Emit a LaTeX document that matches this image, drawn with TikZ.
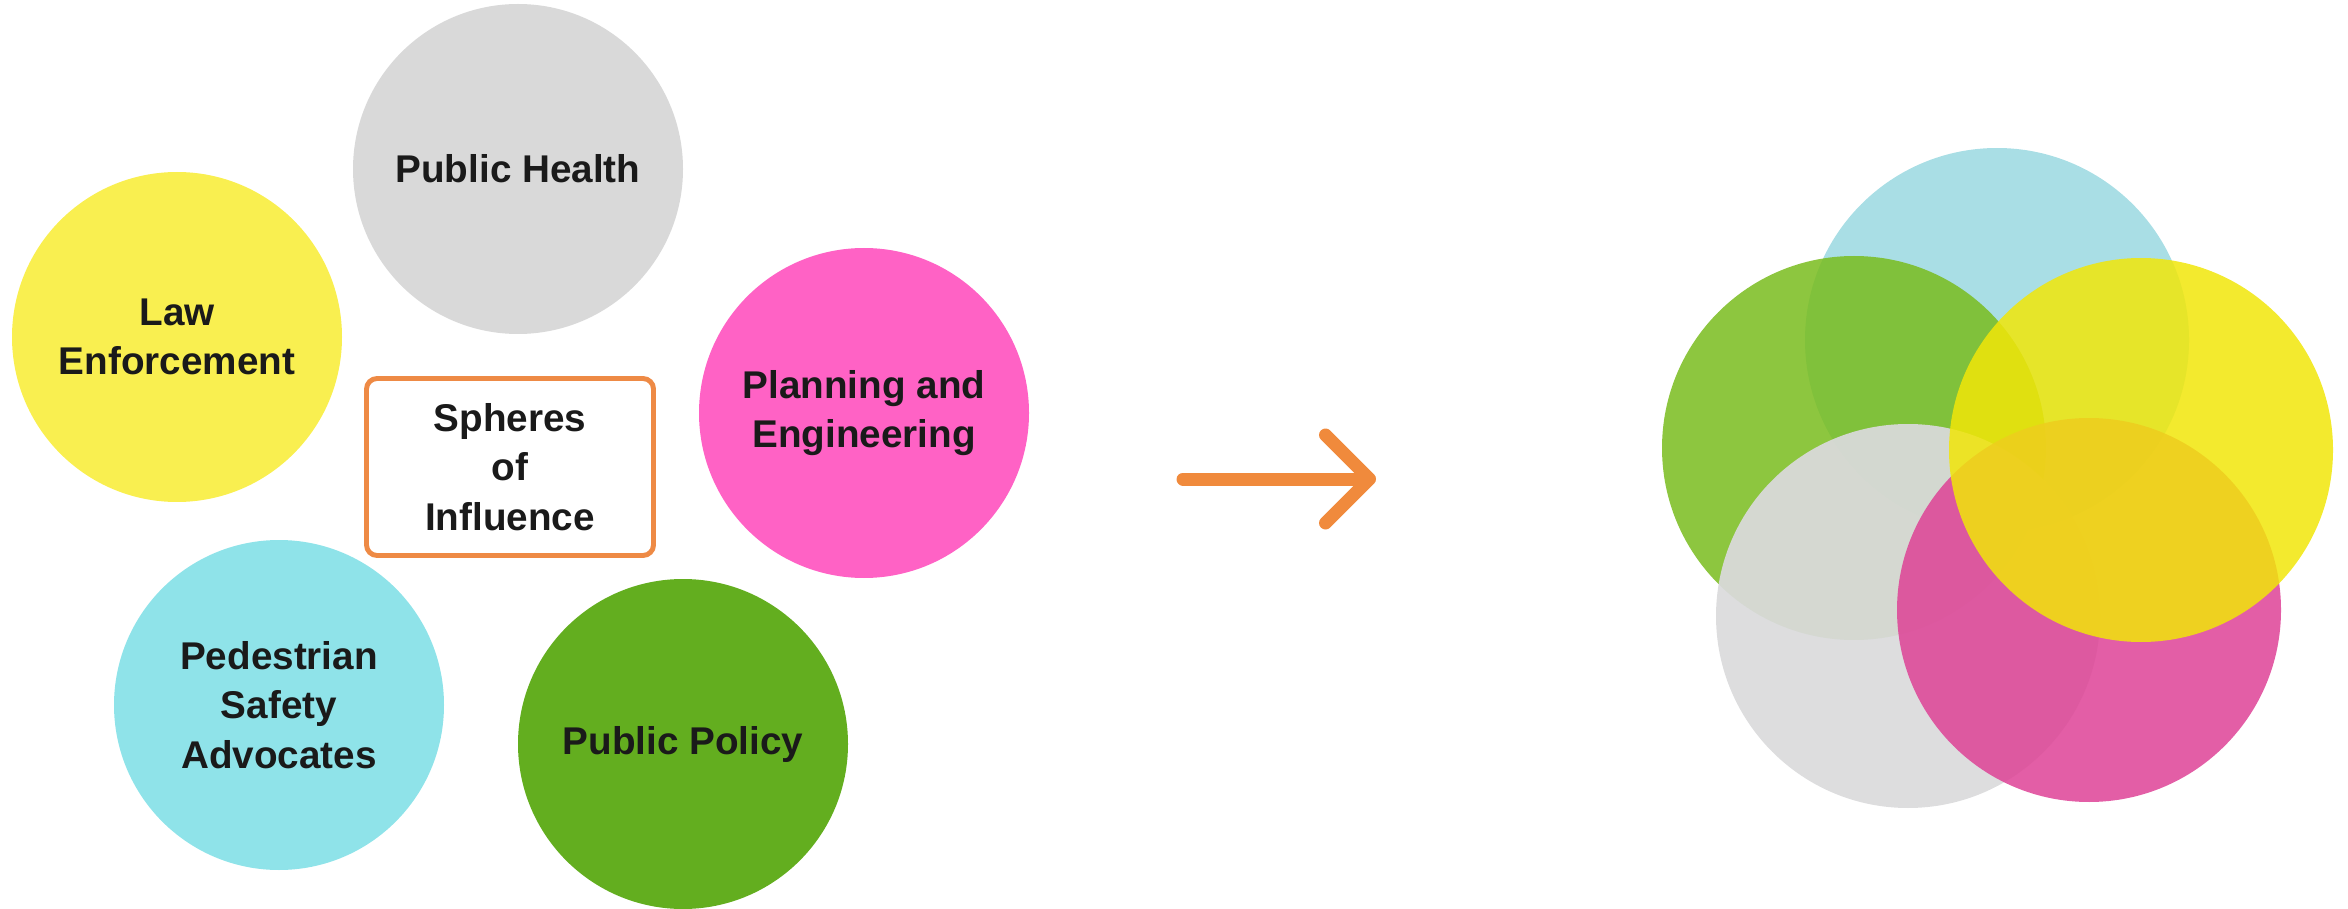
\documentclass[tikz,border=0pt]{standalone}
\usepackage{fontspec}
\setmainfont{Liberation Sans}
\usepackage{xcolor}
\usetikzlibrary{arrows.meta, positioning}

\definecolor{healthgray}{HTML}{D9D9D9}
\definecolor{lawyellow}{HTML}{F9EF50}
\definecolor{planpink}{HTML}{FF62C5}
\definecolor{pedcyan}{HTML}{8FE3E9}
\definecolor{policygreen}{HTML}{63AE1F}
\definecolor{boxorange}{HTML}{EE8A45}
\definecolor{arroworange}{HTML}{F08A3C}
\definecolor{mixcyan}{HTML}{9AD8E0}
\definecolor{mixgreen}{HTML}{79BC1D}
\definecolor{mixgray}{HTML}{DADADC}
\definecolor{mixpink}{HTML}{DE4296}
\definecolor{mixyellow}{HTML}{F1E609}
\definecolor{inktext}{HTML}{1A1A1A}

\begin{document}
\begin{tikzpicture}[
    x=0.1mm, y=-0.1mm,
    sphere/.style={
        circle,
        minimum size=33mm,
        inner sep=0pt,
        align=center,
        text=inktext,
        font=\fontsize{11}{14}\selectfont\bfseries
    },
    center box/.style={
        rectangle,
        draw=boxorange,
        line width=1.4pt,
        rounded corners=3pt,
        minimum width=28.7mm,
        minimum height=17.7mm,
        align=center,
        text=inktext,
        font=\fontsize{11}{14}\selectfont\bfseries
    },
    blob/.style={
        circle,
        minimum size=38.4mm,
        inner sep=0pt,
        fill opacity=0.85
    },
    arrow/.style={
        -{Straight Barb[length=4.4mm, width=8.8mm, round]},
        line width=1.3mm,
        line cap=round,
        color=arroworange
    }
]
\useasboundingbox (0,0) rectangle (2348,909);

% Spheres
\node[sphere, fill=healthgray] (health) at (518,169) {Public Health};
\node[sphere, fill=lawyellow] (law) at (177,337) {Law\\Enforcement};
\node[sphere, fill=planpink] (plan) at (864,413) {Planning and\\Engineering};
\node[sphere, fill=pedcyan] (ped) at (279,705) {Pedestrian\\Safety\\Advocates};
\node[sphere, fill=policygreen] (policy) at (683,744) {Public Policy};
\node[center box] (spheres) at (510,467) {Spheres\\of\\Influence};

% Arrow
\coordinate (arrS) at (1183,479);
\coordinate (arrE) at (1376,479);
\draw[arrow] (arrS) -- (arrE);

% Overlap
\node[blob, fill=mixcyan] (cyanblob) at (1997,340) {};
\node[blob, fill=mixgreen] (greenblob) at (1854,448) {};
\node[blob, fill=mixgray, fill opacity=0.93] (grayblob) at (1908,616) {};
\node[blob, fill=mixpink] (pinkblob) at (2089,610) {};
\node[blob, fill=mixyellow] (yellowblob) at (2141,450) {};

\end{tikzpicture}
\end{document}
